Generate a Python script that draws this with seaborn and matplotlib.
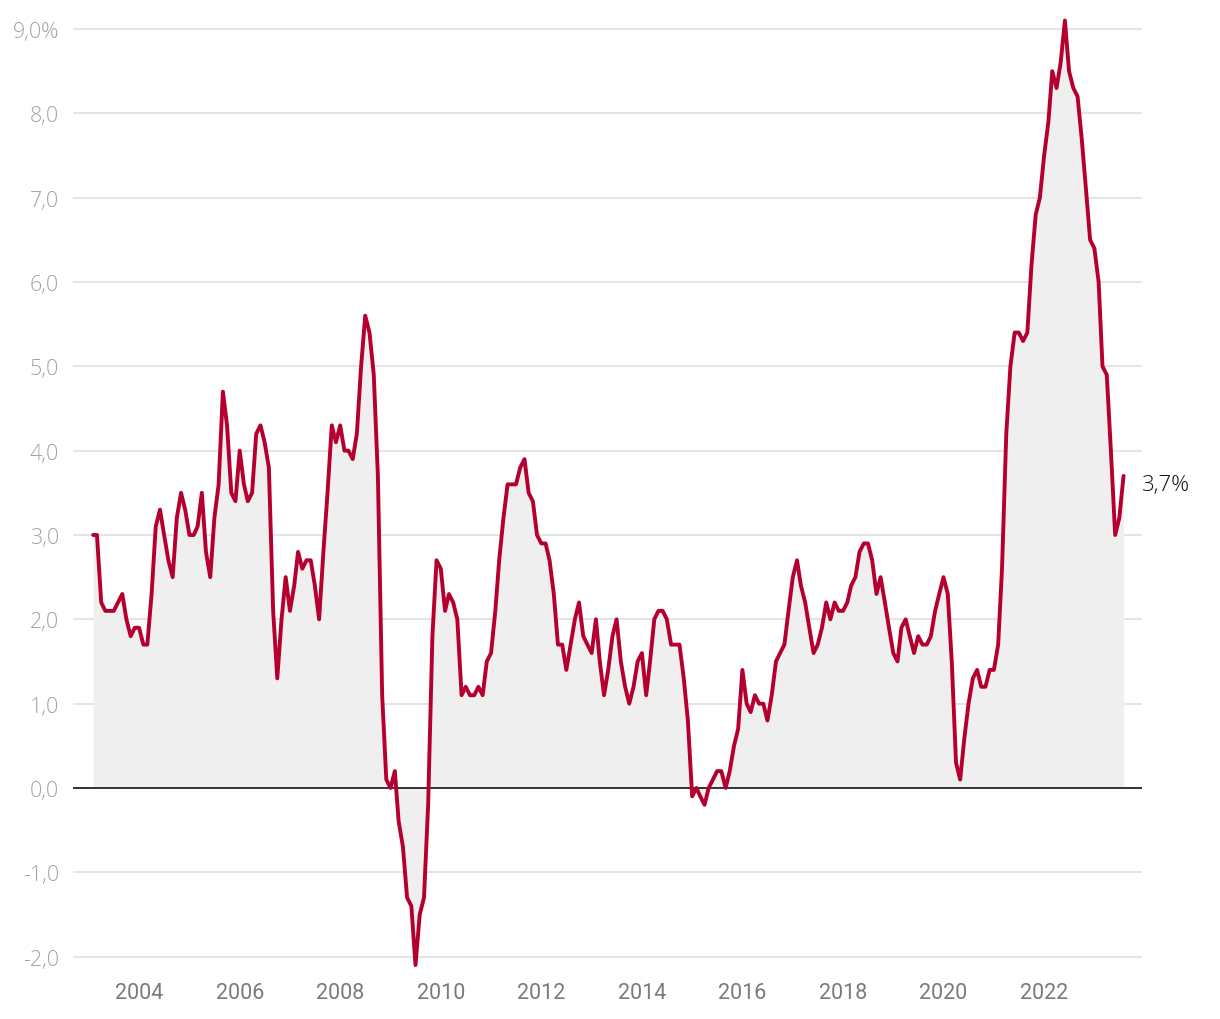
import pandas as pd
import seaborn as sns
import matplotlib.pyplot as plt
import matplotlib.dates as mdates

# Inflation annuelle, mensuelle, fev. 2003 - aout 2023 (%)
start_month = "2003-02-01"
inflation = [
    3.0, 3.0, 2.2, 2.1, 2.1, 2.1, 2.2, 2.3, 2.0, 1.8, 1.9,            # 2003 (fev-dec)
    1.9, 1.7, 1.7, 2.3, 3.1, 3.3, 3.0, 2.7, 2.5, 3.2, 3.5, 3.3,       # 2004
    3.0, 3.0, 3.1, 3.5, 2.8, 2.5, 3.2, 3.6, 4.7, 4.3, 3.5, 3.4,       # 2005
    4.0, 3.6, 3.4, 3.5, 4.2, 4.3, 4.1, 3.8, 2.1, 1.3, 2.0, 2.5,       # 2006
    2.1, 2.4, 2.8, 2.6, 2.7, 2.7, 2.4, 2.0, 2.8, 3.5, 4.3, 4.1,       # 2007
    4.3, 4.0, 4.0, 3.9, 4.2, 5.0, 5.6, 5.4, 4.9, 3.7, 1.1, 0.1,       # 2008
    0.0, 0.2, -0.4, -0.7, -1.3, -1.4, -2.1, -1.5, -1.3, -0.2, 1.8, 2.7,  # 2009
    2.6, 2.1, 2.3, 2.2, 2.0, 1.1, 1.2, 1.1, 1.1, 1.2, 1.1, 1.5,       # 2010
    1.6, 2.1, 2.7, 3.2, 3.6, 3.6, 3.6, 3.8, 3.9, 3.5, 3.4, 3.0,       # 2011
    2.9, 2.9, 2.7, 2.3, 1.7, 1.7, 1.4, 1.7, 2.0, 2.2, 1.8, 1.7,       # 2012
    1.6, 2.0, 1.5, 1.1, 1.4, 1.8, 2.0, 1.5, 1.2, 1.0, 1.2, 1.5,       # 2013
    1.6, 1.1, 1.5, 2.0, 2.1, 2.1, 2.0, 1.7, 1.7, 1.7, 1.3, 0.8,       # 2014
    -0.1, 0.0, -0.1, -0.2, 0.0, 0.1, 0.2, 0.2, 0.0, 0.2, 0.5, 0.7,    # 2015
    1.4, 1.0, 0.9, 1.1, 1.0, 1.0, 0.8, 1.1, 1.5, 1.6, 1.7, 2.1,       # 2016
    2.5, 2.7, 2.4, 2.2, 1.9, 1.6, 1.7, 1.9, 2.2, 2.0, 2.2, 2.1,       # 2017
    2.1, 2.2, 2.4, 2.5, 2.8, 2.9, 2.9, 2.7, 2.3, 2.5, 2.2, 1.9,       # 2018
    1.6, 1.5, 1.9, 2.0, 1.8, 1.6, 1.8, 1.7, 1.7, 1.8, 2.1, 2.3,       # 2019
    2.5, 2.3, 1.5, 0.3, 0.1, 0.6, 1.0, 1.3, 1.4, 1.2, 1.2, 1.4,       # 2020
    1.4, 1.7, 2.6, 4.2, 5.0, 5.4, 5.4, 5.3, 5.4, 6.2, 6.8, 7.0,       # 2021
    7.5, 7.9, 8.5, 8.3, 8.6, 9.1, 8.5, 8.3, 8.2, 7.7, 7.1, 6.5,       # 2022
    6.4, 6.0, 5.0, 4.9, 4.0, 3.0, 3.2, 3.7,                           # 2023 (jan-aout)
]
y_ticks = [-2, -1, 0, 1, 2, 3, 4, 5, 6, 7, 8, 9]
y_labels = ["-2,0", "-1,0", "0,0", "1,0", "2,0", "3,0", "4,0", "5,0", "6,0", "7,0", "8,0", "9,0%"]
x_years = list(range(2004, 2023, 2))
last_label = "3,7%"

df = pd.DataFrame({
    "date": pd.date_range(start_month, periods=len(inflation), freq="MS"),
    "inflation": inflation,
})

sns.set_style("white")
plt.rcParams['font.family'] = ['Roboto', 'DejaVu Sans']

W, H = 1220, 1020
fig = plt.figure(figsize=(W / 100, H / 100), dpi=100)
# axes placée en pixels : x 73..1142, y 4.7..974.5
ax = fig.add_axes([73 / W, (H - 974.5) / H, (1142 - 73) / W, (974.5 - 4.7) / H])

red = "#b5002f"
ax.fill_between(df["date"], df["inflation"], 0, color="#efefef", lw=0, zorder=1)
sns.lineplot(data=df, x="date", y="inflation", color=red, lw=2.8, ax=ax, zorder=4)
ax.axhline(0, color="#333333", lw=1.4, zorder=3)

ax.set_ylim(-2.2, 9.3)
ax.set_xlim(pd.Timestamp("2002-09-08"), pd.Timestamp("2023-12-13"))
ax.set_yticks(y_ticks)
ax.set_yticklabels(y_labels, family=['Open Sans', 'DejaVu Sans'], fontweight='light')
ax.set_xticks([pd.Timestamp(f"{y}-01-01") for y in x_years])
ax.xaxis.set_major_formatter(mdates.DateFormatter("%Y"))
ax.tick_params(axis='y', length=0, pad=10, labelsize=15.5, labelcolor="#a3a3a3")
ax.tick_params(axis='x', length=0, pad=6, labelsize=15.5, labelcolor="#7a7a7a")

ax.grid(axis='y', color="#e2e2e2", lw=1.3, zorder=0)
ax.grid(axis='x', visible=False)
ax.set_axisbelow(True)
for s in ax.spines.values():
    s.set_visible(False)
ax.set_xlabel("")
ax.set_ylabel("")

ax.annotate(last_label, xy=(df["date"].iloc[-1], df["inflation"].iloc[-1]),
            xytext=(13, -6), textcoords="offset points", va="center", ha="left",
            fontsize=16, color="#111111", family=['Open Sans', 'DejaVu Sans'], fontweight='light')

fig.savefig("out.png", dpi=100)
